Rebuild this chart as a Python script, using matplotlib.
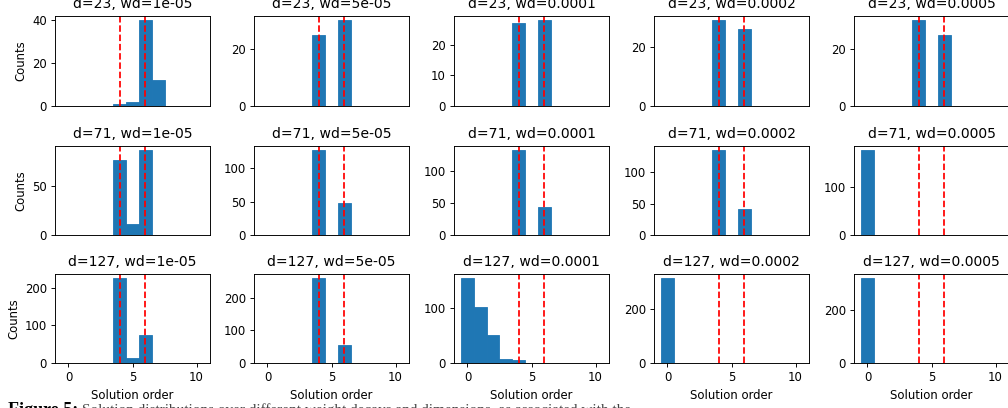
import matplotlib
matplotlib.use("Agg")
import matplotlib.pyplot as plt
import numpy as np

# everything a bit smaller than the defaults, like a scaled down paper figure
s = 0.84
plt.rcParams['font.size'] = 10 * s
plt.rcParams['axes.linewidth'] = 0.8 * s
plt.rcParams['lines.linewidth'] = 1.5 * s
for ax_name in ['xtick', 'ytick']:
    plt.rcParams[ax_name + '.major.size'] = 3.5 * s
    plt.rcParams[ax_name + '.major.pad'] = 3.5 * s
    plt.rcParams[ax_name + '.major.width'] = 0.8 * s
plt.rcParams['axes.labelpad'] = 4 * s

# dimensions (rows) and weight decays (columns)
dims = [23, 71, 127]
wds = ["1e-05", "5e-05", "0.0001", "0.0002", "0.0005"]

# solution orders 0..10
orders = np.arange(11)

# counts per solution order
counts_d23 = [
    [0, 0, 0, 0, 1, 2, 40, 12, 0, 0, 0],
    [0, 0, 0, 0, 25, 0, 30, 0, 0, 0, 0],
    [0, 0, 0, 0, 27, 0, 28, 0, 0, 0, 0],
    [0, 0, 0, 0, 29, 0, 26, 0, 0, 0, 0],
    [0, 0, 0, 0, 30, 0, 25, 0, 0, 0, 0],
]
counts_d71 = [
    [0, 0, 0, 0, 77, 11, 87, 0, 0, 0, 0],
    [0, 0, 0, 0, 127, 0, 48, 0, 0, 0, 0],
    [0, 0, 0, 0, 132, 0, 43, 0, 0, 0, 0],
    [0, 0, 0, 0, 135, 0, 42, 0, 0, 0, 0],
    [175, 0, 0, 0, 0, 0, 0, 0, 0, 0, 0],
]
counts_d127 = [
    [0, 0, 0, 0, 225, 13, 74, 0, 0, 0, 0],
    [0, 0, 0, 0, 260, 0, 55, 0, 0, 0, 0],
    [153, 101, 50, 7, 5, 0, 0, 0, 0, 0, 0],
    [316, 0, 0, 0, 0, 0, 0, 0, 0, 0, 0],
    [317, 0, 0, 0, 0, 0, 0, 0, 0, 0, 0],
]
all_counts = [counts_d23, counts_d71, counts_d127]

# reference solution orders (red dashed lines)
ref_orders = [4, 6]

W, H = 1008, 408
fig = plt.figure(figsize=(W / 100, H / 100), dpi=100)

col_left = [55, 254, 454, 654, 854]
ax_w = 155
row_box = [(16, 106), (146, 235), (274, 363)]

bins = np.arange(-0.5, 11.5, 1)

for i, d in enumerate(dims):
    for j, wd in enumerate(wds):
        top, bot = row_box[i]
        ax = fig.add_axes([col_left[j] / W, 1 - bot / H, ax_w / W, (bot - top) / H])
        # thin edge so the empty bins still show as a line on the baseline
        ax.hist(orders, bins=bins, weights=all_counts[i][j], color='#1f77b4',
                edgecolor='#1f77b4', linewidth=0.6)
        for r in ref_orders:
            ax.axvline(r, color='r', linestyle='--')
        ax.set_xlim(-1.05, 11.05)
        ax.set_title(f"d={d}, wd={wd}", pad=5.5)
        if j == 0:
            ax.set_ylabel("Counts")
        if i == 2:
            ax.set_xticks([0, 5, 10])
            ax.set_xlabel("Solution order")
        else:
            ax.set_xticks([])

# caption of the paper figure, cut off at the bottom edge
fig.text(8 / W, 1 - 402 / H, "Figure 5:", family="Liberation Serif",
         fontweight="bold", fontsize=13, va="top", ha="left")
fig.text(82 / W, 1 - 403.5 / H,
         "Solution distributions over different weight decays and dimensions, as associated with the",
         family="Liberation Serif", fontsize=11, va="top", ha="left", color="#444444")

fig.savefig("out.png", dpi=100)
